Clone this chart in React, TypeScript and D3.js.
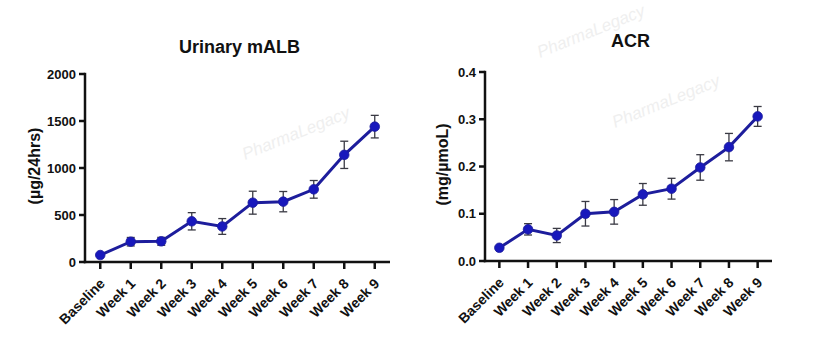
import React from "react";
import * as d3 from "d3";

const categories = ["Baseline", "Week 1", "Week 2", "Week 3", "Week 4", "Week 5", "Week 6", "Week 7", "Week 8", "Week 9"];

const malbMean = [74, 216, 220, 433, 378, 631, 642, 773, 1140, 1440];
const malbErr = [10, 45, 42, 92, 84, 122, 108, 94, 145, 120];
const malbTicks = [0, 500, 1000, 1500, 2000];

const acrMean = [0.028, 0.067, 0.054, 0.1, 0.104, 0.141, 0.153, 0.198, 0.241, 0.306];
const acrErr = [0.003, 0.012, 0.015, 0.026, 0.026, 0.023, 0.022, 0.027, 0.029, 0.021];
const acrTicks = [0, 0.1, 0.2, 0.3, 0.4];

const watermarks = [
  { x: 540, y: 58 },
  { x: 245, y: 160 },
  { x: 615, y: 128 },
];

const FONT = "'Liberation Sans', Arial, sans-serif";

type PanelProps = {
  title: string;
  yLabel: string;
  means: number[];
  errs: number[];
  ticks: number[];
  yMax: number;
  fmt: (v: number) => string;
  x0: number;
  x1: number;
  yTop: number;
  yBot: number;
  titleY: number;
  yLabelX: number;
};

function Panel(p: PanelProps) {
  const x = d3.scalePoint<string>().domain(categories).range([p.x0, p.x1]).padding(0.5);
  const y = d3.scaleLinear().domain([0, p.yMax]).range([p.yBot, p.yTop]);
  const line = d3
    .line<number>()
    .x((_, i) => x(categories[i]) as number)
    .y((d) => y(d));
  const lineColor = "#1d1d9c";
  const dotColor = "#1818bc";
  const errColor = "#3a3a44";
  const cap = 4;
  return (
    <g>
      <text
        x={(p.x0 + p.x1) / 2 + 2}
        y={p.titleY}
        textAnchor="middle"
        fontFamily={FONT}
        fontWeight="bold"
        fontSize={18}
        fill="#111"
      >
        {p.title}
      </text>
      <text
        transform={`translate(${p.yLabelX},${(p.yTop + p.yBot) / 2 - 2}) rotate(-90)`}
        textAnchor="middle"
        dominantBaseline="central"
        fontFamily={FONT}
        fontWeight="bold"
        fontSize={16}
        fill="#111"
      >
        {p.yLabel}
      </text>
      {/* y axis */}
      <line x1={p.x0} x2={p.x0} y1={p.yTop - 1.2} y2={p.yBot + 1.2} stroke="#111" strokeWidth={2.5} />
      {p.ticks.map((t) => (
        <g key={t}>
          <line x1={p.x0 - 6} x2={p.x0} y1={y(t)} y2={y(t)} stroke="#111" strokeWidth={2.5} />
          <text
            x={p.x0 - 9}
            y={y(t)}
            textAnchor="end"
            dominantBaseline="central"
            fontFamily={FONT}
            fontWeight="bold"
            fontSize={13}
            fill="#111"
          >
            {p.fmt(t)}
          </text>
        </g>
      ))}
      {/* x axis */}
      <line x1={p.x0 - 1.2} x2={p.x1} y1={p.yBot} y2={p.yBot} stroke="#111" strokeWidth={2.5} />
      {categories.map((c) => {
        const cx = x(c) as number;
        return (
          <g key={c}>
            <line x1={cx} x2={cx} y1={p.yBot} y2={p.yBot + 7} stroke="#111" strokeWidth={2.5} />
            <text
              transform={`translate(${cx + 2},${p.yBot + 19}) rotate(-45)`}
              textAnchor="end"
              dominantBaseline="central"
              fontFamily={FONT}
              fontWeight="bold"
              fontSize={14}
              fill="#111"
            >
              {c}
            </text>
          </g>
        );
      })}
      {/* error bars */}
      {p.means.map((m, i) => {
        const cx = x(categories[i]) as number;
        const yt = y(m + p.errs[i]);
        const yb = y(m - p.errs[i]);
        return (
          <g key={"e" + i} stroke={errColor} strokeWidth={1.3}>
            <line x1={cx} x2={cx} y1={yt} y2={yb} />
            <line x1={cx - cap} x2={cx + cap} y1={yt} y2={yt} />
            <line x1={cx - cap} x2={cx + cap} y1={yb} y2={yb} />
          </g>
        );
      })}
      <path d={line(p.means) || ""} fill="none" stroke={lineColor} strokeWidth={3} />
      {p.means.map((m, i) => (
        <circle key={"d" + i} cx={x(categories[i]) as number} cy={y(m)} r={4.8} fill={dotColor} stroke={lineColor} strokeWidth={0.8} />
      ))}
    </g>
  );
}

export default function App() {
  return (
    <svg width={814} height={355} style={{ display: "block", position: "absolute", left: 0, top: 0, background: "#fff" }}>
      <rect x={0} y={0} width={814} height={355} fill="#fff" />
      {watermarks.map((w, i) => (
        <text
          key={i}
          transform={`translate(${w.x},${w.y}) rotate(-22)`}
          fontFamily={FONT}
          fontStyle="italic"
          fontSize={17}
          fill="#efefef"
        >
          PharmaLegacy
        </text>
      ))}
      <Panel
        title="Urinary mALB"
        yLabel="(µg/24hrs)"
        means={malbMean}
        errs={malbErr}
        ticks={malbTicks}
        yMax={2000}
        fmt={(v) => String(v)}
        x0={85}
        x1={390}
        yTop={74}
        yBot={262}
        titleY={53}
        yLabelX={34}
      />
      <Panel
        title="ACR"
        yLabel="(mg/µmoL)"
        means={acrMean}
        errs={acrErr}
        ticks={acrTicks}
        yMax={0.4}
        fmt={(v) => v.toFixed(1)}
        x0={485}
        x1={772}
        yTop={72}
        yBot={261}
        titleY={47}
        yLabelX={442}
      />
    </svg>
  );
}
